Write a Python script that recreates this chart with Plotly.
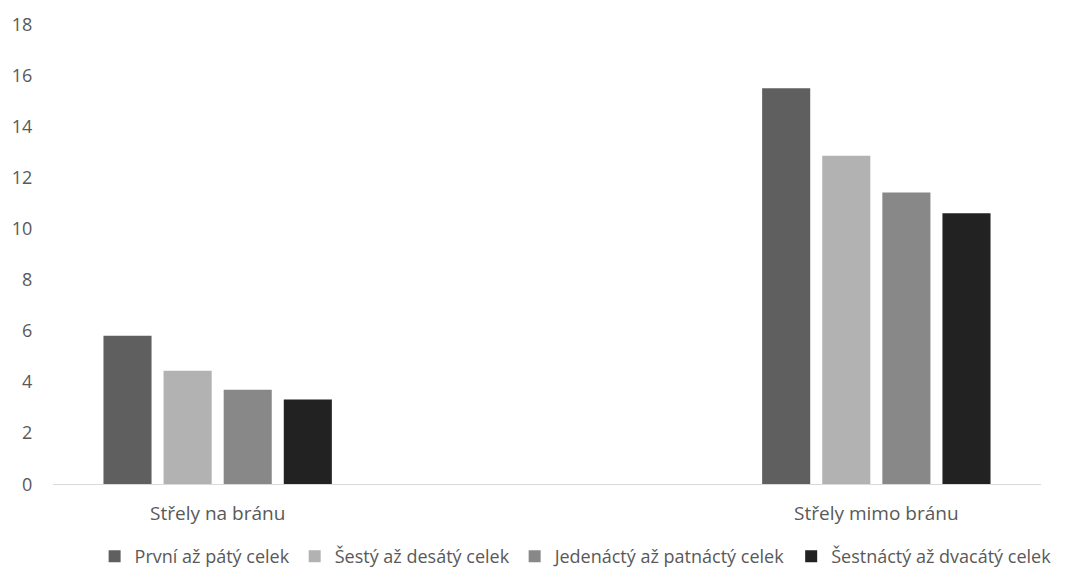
import plotly.graph_objects as go

categories = ["Střely na bránu", "Střely mimo bránu"]
axis_slots = ["Střely na bránu", " ", "Střely mimo bránu"]
series_names = ["První až pátý celek", "Šestý až desátý celek",
                "Jedenáctý až patnáctý celek", "Šestnáctý až dvacátý celek"]
series_values = [
    [5.82, 15.52],
    [4.45, 12.87],
    [3.70, 11.43],
    [3.32, 10.62],
]
colors = ["#5f5f5f", "#b2b2b2", "#888888", "#222222"]
y_ticks = [0, 2, 4, 6, 8, 10, 12, 14, 16, 18]

FONT = "Open Sans"
fig = go.Figure()
for name, vals, col in zip(series_names, series_values, colors):
    fig.add_trace(go.Bar(x=categories, y=vals, name=name,
                         marker=dict(color=col, line=dict(width=0))))

fig.update_layout(
    width=1082, height=575,
    margin=dict(l=53, r=41, t=20, b=87),
    paper_bgcolor="white", plot_bgcolor="white",
    barmode="group", bargap=0.27, bargroupgap=0.2,
    font=dict(family=FONT, size=19, color="#595959"),
    showlegend=True,
    legend=dict(orientation="h", xref="container", yref="container",
                x=0.532, xanchor="center", y=0.0, yanchor="bottom",
                font=dict(family=FONT, size=18, color="#595959"),
                itemwidth=30, traceorder="normal"),
    xaxis=dict(type="category", categoryorder="array", categoryarray=axis_slots,
               range=[-0.5, 2.5], showgrid=False, showline=True, linecolor="#d9d9d9",
               linewidth=1, ticks="outside", ticklen=12, tickcolor="rgba(0,0,0,0)",
               zeroline=False, fixedrange=True, tickfont=dict(size=19)),
    yaxis=dict(range=[0, 18], tickvals=y_ticks, showgrid=False, showline=False,
               zeroline=False, ticks="outside", ticklen=16, tickcolor="rgba(0,0,0,0)",
               tickfont=dict(size=18)),
)
fig.write_html("out.html")
